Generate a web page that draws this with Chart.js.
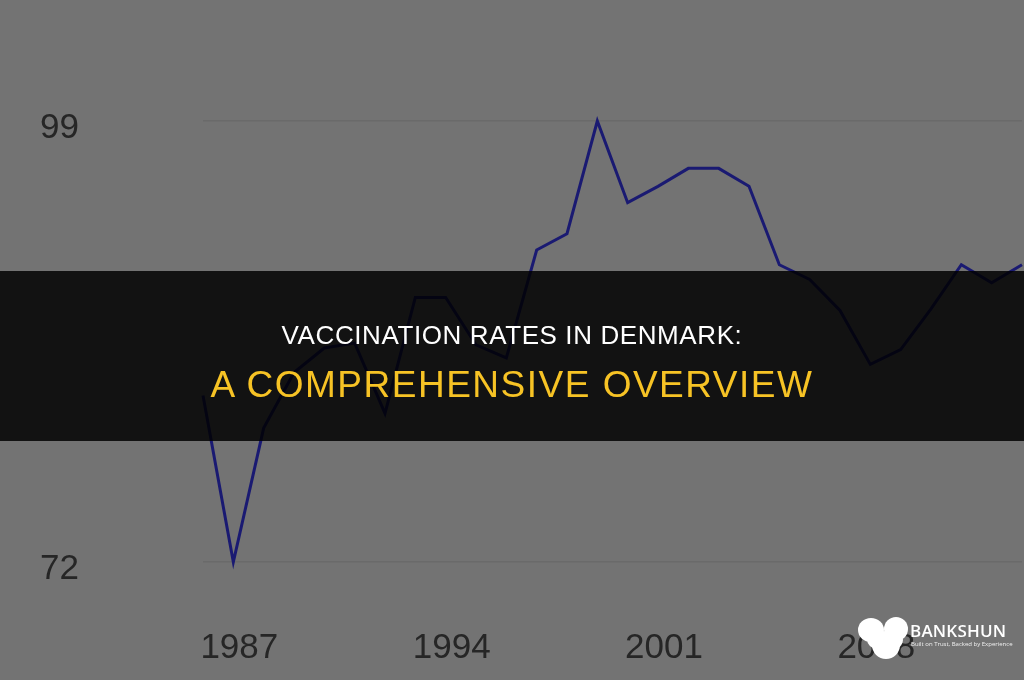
<!DOCTYPE html>
<html>
<head>
<meta charset="utf-8">
<script src="https://cdn.jsdelivr.net/npm/chart.js@4/dist/chart.umd.min.js"></script>
<style>
  html, body { margin: 0; padding: 0; background: #737373; }
  #wrap { position: relative; width: 1024px; height: 680px; overflow: hidden; background: #737373; }
  #c { position: absolute; left: 0; top: 0; }
  #band { position: absolute; left: 0; top: 271px; width: 1024px; height: 170px; background: rgba(0,0,0,0.84); }
  .t { position: absolute; left: 0; width: 1024px; text-align: center; font-family: "Liberation Sans", Arial, sans-serif; white-space: nowrap; }
  #t1 { top: 322px; font-size: 26px; line-height: 26px; color: #ffffff; letter-spacing: 0.6px; }
  #t2 { top: 366px; font-size: 37px; line-height: 37px; color: #f7c325; letter-spacing: 1.5px; }
  #logo { position: absolute; left: 856px; top: 614px; width: 160px; height: 50px; }
  #brand { position: absolute; left: 910px; top: 621px; font-family: "Open Sans", sans-serif; font-weight: 600; font-size: 17px; line-height: 20px; color: #fff; letter-spacing: 0.2px; }
  #tag { position: absolute; left: 911px; top: 640px; font-family: "Open Sans", sans-serif; font-size: 6px; line-height: 8px; color: #f0f0f0; white-space: nowrap; }
</style>
</head>
<body>
<div id="wrap">
  <canvas id="c" width="1024" height="680"></canvas>
  <div id="band"></div>
  <div class="t" id="t1">VACCINATION RATES IN DENMARK:</div>
  <div class="t" id="t2">A COMPREHENSIVE OVERVIEW</div>
  <svg id="logo" width="160" height="50" viewBox="0 0 160 50">
    <g fill="#ffffff">
      <ellipse cx="15" cy="16" rx="13" ry="12"/>
      <ellipse cx="40" cy="15" rx="12" ry="12"/>
      <ellipse cx="30" cy="31" rx="14" ry="14"/>
      <ellipse cx="21" cy="25" rx="10" ry="10"/>
      <ellipse cx="38" cy="26" rx="9" ry="9"/>
    </g>
  </svg>
  <div id="brand">BANKSHUN</div>
  <div id="tag">Built on Trust, Backed by Experience</div>
</div>
<script>
const years = ['1986','1987','1988','1989','1990','1991','1992','1993','1994','1995','1996','1997','1998','1999','2000','2001','2002','2003','2004','2005','2006','2007','2008','2009','2010','2011','2012','2013'];
const rates = [82.2, 72.0, 80.2, 83.6, 85.1, 85.4, 81.1, 88.2, 88.2, 85.3, 84.5, 91.1, 92.1, 99.0, 94.0, 95.0, 96.1, 96.1, 95.0, 90.2, 89.3, 87.4, 84.1, 85.0, 87.5, 90.2, 89.1, 90.2];
const xTickLabels = ['1987','1994','2001','2008'];
const yTickValues = [72, 99];

const tickFont = { family: '"Liberation Sans", Arial, sans-serif', size: 35 };

new Chart(document.getElementById('c'), {
  type: 'line',
  data: {
    labels: years,
    datasets: [{
      data: rates,
      borderColor: '#1a1a72',
      borderWidth: 3,
      pointRadius: 0,
      tension: 0,
      fill: false,
      clip: false
    }]
  },
  options: {
    responsive: false,
    animation: false,
    events: [],
    layout: { padding: { left: 40, top: 121, right: 2, bottom: 0 } },
    plugins: { legend: { display: false }, title: { display: false }, tooltip: { enabled: false } },
    scales: {
      x: {
        type: 'category',
        offset: false,
        grid: { display: true, drawOnChartArea: false, drawTicks: true, tickLength: 65, color: 'rgba(0,0,0,0)' },
        border: { display: false },
        afterFit: (s) => { s.height = 118; },
        ticks: {
          autoSkip: false,
          maxRotation: 0,
          padding: 0,
          labelOffset: 6,
          color: '#262626',
          font: tickFont,
          callback: function (v) {
            const l = this.getLabelForValue(v);
            return xTickLabels.includes(l) ? l : '';
          }
        }
      },
      y: {
        min: yTickValues[0],
        max: yTickValues[yTickValues.length - 1],
        afterFit: (s) => { s.width = 163; },
        afterBuildTicks: (s) => { s.ticks = yTickValues.map(v => ({ value: v })); },
        grid: { color: '#6a6a6a', lineWidth: 1.5, drawTicks: false },
        border: { display: false },
        ticks: {
          crossAlign: 'far',
          labelOffset: 7,
          color: '#262626',
          font: tickFont,
          callback: (v) => String(v)
        }
      }
    }
  }
});
</script>
</body>
</html>
